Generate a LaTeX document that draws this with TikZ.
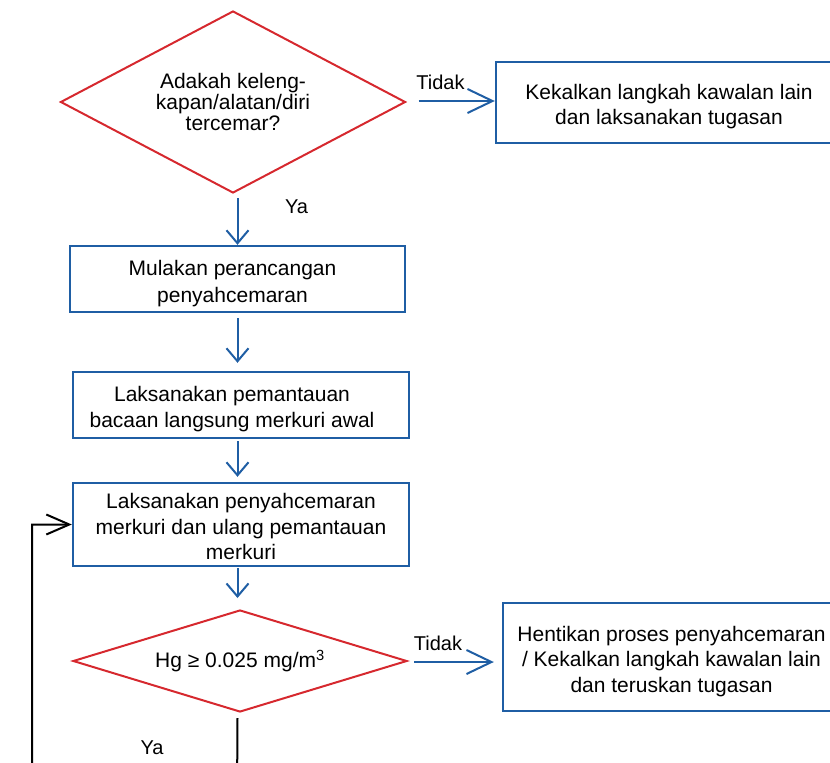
\documentclass[tikz,border=0pt]{standalone}
\usepackage{fontspec}
\setmainfont{Liberation Sans}
\usetikzlibrary{shapes.geometric,arrows.meta,calc}
\definecolor{flowblue}{RGB}{31,94,164}
\definecolor{flowred}{RGB}{214,40,46}
% centred lines, set a little low in the box; optional right padding
\newcommand\steptext[2][0pt]{\raisebox{-4.5pt}[\height][\depth]{%
  \begin{tabular}{@{}c@{\hspace{#1}}}#2\end{tabular}}}
\tikzset{
  stepbox/.style={draw=flowblue, line width=2.4pt, rectangle, align=center,
    inner sep=0pt, font=\fontsize{21}{25.5}\selectfont},
  decision/.style={draw=flowred, line width=2pt, diamond, align=center,
    inner sep=0pt, font=\fontsize{21}{21}\selectfont},
  flowdown/.style={draw=flowblue, line width=2pt, line join=miter,
    -{Straight Barb[length=13pt,width=22pt]}},
  flowright/.style={draw=flowblue, line width=2pt, line join=miter,
    -{Straight Barb[length=25pt,width=24pt]}},
  loopback/.style={draw=black, line width=2pt, line join=miter,
    -{Straight Barb[length=23pt,width=20pt]}},
  branch/.style={font=\fontsize{20}{20}\selectfont, inner sep=0pt},
}
\begin{document}
\begin{tikzpicture}[x=1pt,y=-1pt]
\path[use as bounding box, clip] (0,0) rectangle (830,763);

% decisions
\node[decision, aspect=1.9, minimum width=345pt, minimum height=182pt] (d1) at (233,102)
  {Adakah keleng-\\kapan/alatan/diri\\tercemar?};
\node[decision, aspect=3.3, minimum width=334pt, minimum height=102pt] (d2) at (240,661)
  {Hg ≥ 0.025 mg/m\textsuperscript{3}};

% process steps
\node[stepbox, minimum width=346pt, minimum height=81pt] (b1) at (669,102.5)
  {\steptext{Kekalkan langkah kawalan lain\\dan laksanakan tugasan}};
\node[stepbox, minimum width=335pt, minimum height=66pt] (b2) at (237.5,279)
  {\steptext[10pt]{Mulakan perancangan\\[1.5pt]penyahcemaran}};
\node[stepbox, minimum width=336pt, minimum height=66pt] (b3) at (241,405)
  {\steptext[18pt]{Laksanakan pemantauan\\bacaan langsung merkuri awal}};
\node[stepbox, minimum width=336pt, minimum height=83pt] (b4) at (241,524.5)
  {\steptext{Laksanakan penyahcemaran\\merkuri dan ulang pemantauan\\merkuri}};
\node[stepbox, minimum width=337pt, minimum height=108pt] (b5) at (671.5,657)
  {\steptext{Hentikan proses penyahcemaran\\/ Kekalkan langkah kawalan lain\\dan teruskan tugasan}};

% branch labels
\node[branch] (t1) at (440.5,82) {Tidak};
\node[branch] (t2) at (438,643) {Tidak};
\node[branch] (y1) at (296.5,207) {Ya};
\node[branch] (y2) at (152,748) {Ya};

% connectors
\draw[flowright] ($(d1.east)+(12,-1)$) -- ($(d1.east -| b1.west)+(0,-1)$);
\draw[flowdown] ($(d1.south -| b2.north)+(0,4)$) -- (b2.north);
\draw[flowdown, shorten >=8pt] ($(b2.south)+(0,5)$) -- (b3.north -| b2.south);
\draw[flowdown, shorten >=5pt] ($(b3.south -| b2.south)+(0,2)$) -- (b4.north -| b2.south);
\draw[flowdown, shorten >=11pt] ($(b4.south -| b2.south)+(0,1)$) -- (d2.north -| b2.south);
\draw[flowright, shorten >=8pt] ($(d2.east)+(6,1)$) -- ($(d2.east -| b5.west)+(0,1)$);

% "Ya" branch runs off below and returns to the decontamination step
\coordinate (yaend) at (237,800);
\coordinate (loopcorner) at (32,800);
\draw[loopback] ($(d2.south -| b2.south)+(0,5)$) -- (yaend) -- (loopcorner) |- (b4.west);
\end{tikzpicture}
\end{document}
